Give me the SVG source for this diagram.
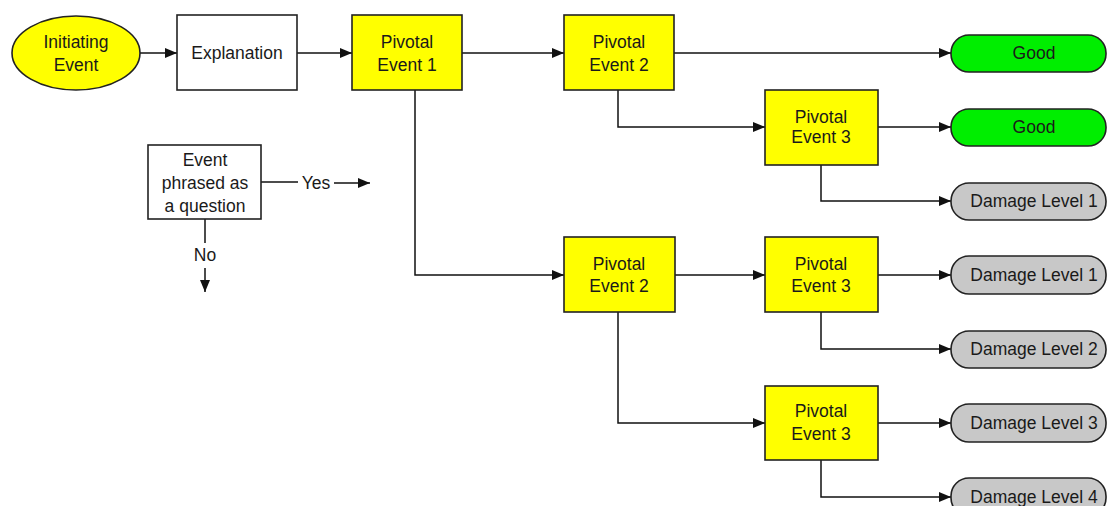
<svg xmlns="http://www.w3.org/2000/svg" width="1108" height="506" viewBox="0 0 1108 506">
<defs>
<marker id="arr" markerWidth="12" markerHeight="10" refX="12" refY="5" orient="auto" markerUnits="userSpaceOnUse">
<path d="M0,0 L12,5 L0,10 Z" fill="#111"/>
</marker>
<style>
text{font-family:"Liberation Sans",Arial,sans-serif;font-size:17.5px;fill:#1a1a1a;text-anchor:middle}
.box{stroke:#222;stroke-width:1.6}
.piv{fill:#ffff00}
.wh{fill:#fff}
.good{fill:#00ee00}
.dmg{fill:#c8c8c8}
.c{fill:none;stroke:#111;stroke-width:1.5}
</style>
</defs>
<rect width="1108" height="506" fill="#fff"/>
<g id="connectors">
<path class="c" d="M140,53 H177" marker-end="url(#arr)"/>
<path class="c" d="M297,53 H352" marker-end="url(#arr)"/>
<path class="c" d="M462,53 H564" marker-end="url(#arr)"/>
<path class="c" d="M674,53 H951" marker-end="url(#arr)"/>
<path class="c" d="M618,90 V127 H765" marker-end="url(#arr)"/>
<path class="c" d="M878,127 H951" marker-end="url(#arr)"/>
<path class="c" d="M821,165 V201 H951" marker-end="url(#arr)"/>
<path class="c" d="M415,90 V275 H564" marker-end="url(#arr)"/>
<path class="c" d="M675,275 H765" marker-end="url(#arr)"/>
<path class="c" d="M878,275 H951" marker-end="url(#arr)"/>
<path class="c" d="M821,312 V349 H951" marker-end="url(#arr)"/>
<path class="c" d="M618,312 V423 H765" marker-end="url(#arr)"/>
<path class="c" d="M878,423 H951" marker-end="url(#arr)"/>
<path class="c" d="M821,460 V497 H951" marker-end="url(#arr)"/>
<path class="c" d="M261,182 H298"/>
<path class="c" d="M334,183 H370" marker-end="url(#arr)"/>
<path class="c" d="M205,219 V243"/>
<path class="c" d="M205,268 V292" marker-end="url(#arr)"/>
</g>
<g id="initiating">
<ellipse class="box" cx="76" cy="53" rx="64" ry="37" fill="#ffff00"/>
<text x="76" y="48">Initiating</text>
<text x="76" y="71">Event</text>
</g>
<g id="explanation">
<rect class="box wh" x="177" y="15" width="120" height="75"/>
<text x="237" y="59">Explanation</text>
</g>
<g id="pe1">
<rect class="box piv" x="352" y="15" width="110" height="75"/>
<text x="407" y="48">Pivotal</text>
<text x="407" y="71">Event 1</text>
</g>
<g id="pe2a">
<rect class="box piv" x="564" y="15" width="110" height="75"/>
<text x="619" y="48">Pivotal</text>
<text x="619" y="71">Event 2</text>
</g>
<g id="pe3a">
<rect class="box piv" x="765" y="90" width="113" height="75"/>
<text x="821" y="123">Pivotal</text>
<text x="821" y="143">Event 3</text>
</g>
<g id="pe2b">
<rect class="box piv" x="564" y="237" width="111" height="75"/>
<text x="619" y="270">Pivotal</text>
<text x="619" y="292">Event 2</text>
</g>
<g id="pe3b">
<rect class="box piv" x="765" y="237" width="113" height="75"/>
<text x="821" y="270">Pivotal</text>
<text x="821" y="292">Event 3</text>
</g>
<g id="pe3c">
<rect class="box piv" x="765" y="386" width="113" height="74"/>
<text x="821" y="417">Pivotal</text>
<text x="821" y="440">Event 3</text>
</g>
<g id="good1">
<rect class="box good" x="951" y="35" width="155" height="37" rx="18"/>
<text x="1034" y="59">Good</text>
</g>
<g id="good2">
<rect class="box good" x="951" y="109" width="155" height="37" rx="18"/>
<text x="1034" y="133">Good</text>
</g>
<g id="dl1a">
<rect class="box dmg" x="951" y="183" width="155" height="37" rx="18"/>
<text x="1034" y="207">Damage Level 1</text>
</g>
<g id="dl1b">
<rect class="box dmg" x="951" y="256" width="155" height="38" rx="18"/>
<text x="1034" y="281">Damage Level 1</text>
</g>
<g id="dl2">
<rect class="box dmg" x="951" y="331" width="155" height="37" rx="18"/>
<text x="1034" y="355">Damage Level 2</text>
</g>
<g id="dl3">
<rect class="box dmg" x="951" y="404" width="155" height="38" rx="18"/>
<text x="1034" y="429">Damage Level 3</text>
</g>
<g id="dl4">
<rect class="box dmg" x="951" y="478" width="155" height="38" rx="18"/>
<text x="1034" y="503">Damage Level 4</text>
</g>
<g id="legend">
<rect class="box wh" x="148" y="145" width="113" height="74"/>
<text x="205" y="166">Event</text>
<text x="205" y="189">phrased as</text>
<text x="205" y="212">a question</text>
<text x="316" y="189">Yes</text>
<text x="205" y="261">No</text>
</g>
</svg>
